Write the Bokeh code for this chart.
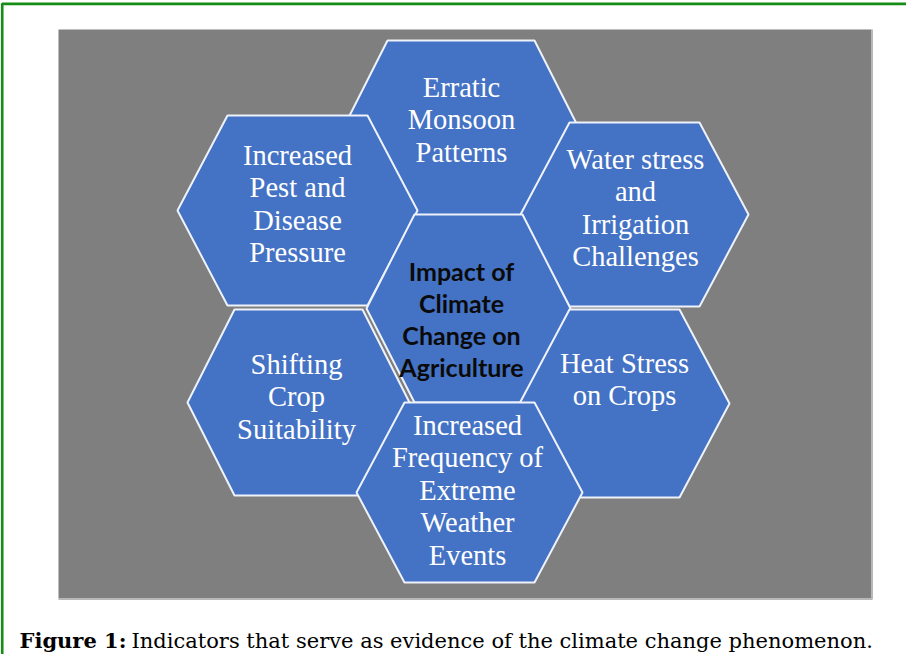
from bokeh.plotting import figure
from bokeh.models import Range1d
from bokeh.core.properties import value
from bokeh.embed import file_html
from bokeh.resources import INLINE

# ---- data ----
labels = [
    "Erratic\nMonsoon\nPatterns",
    "Increased\nPest and\nDisease\nPressure",
    "Water stress\nand\nIrrigation\nChallenges",
    "Impact of\nClimate\nChange on\nAgriculture",
    "Shifting\nCrop\nSuitability",
    "Heat Stress\non Crops",
    "Increased\nFrequency of\nExtreme\nWeather\nEvents",
]
is_core = [False, False, False, True, False, False, False]
hex_cx = [468.5, 305, 642, 476, 306, 632, 477]
hex_cy = [140, 218, 222, 316, 410, 411, 500]
hex_w = [120, 120, 114, 102, 111, 105, 113]
hex_e = [73.5, 70, 65, 54, 64, 55, 65]
hex_h = [92, 95, 92, 94, 93, 94, 90]
text_x = [469, 305, 643, 469, 304, 632, 475]
text_first_baseline = [95, 163, 167, 278, 372, 371, 433]
caption_bold = "Figure 1:"
caption_rest = "Indicators that serve as evidence of the climate change phenomenon."

W, H = 906, 654
p = figure(width=W, height=H, output_backend="svg", toolbar_location=None,
           x_range=Range1d(8, 8 + W), y_range=Range1d(8 + H, 8),
           min_border=0)
p.axis.visible = False
p.grid.visible = False
p.outline_line_color = None
p.background_fill_color = "white"
p.border_fill_color = "white"

# green frame
p.quad(left=[9.7], right=[1200], top=[11.3], bottom=[1200],
       fill_color=None, line_color="#178C17", line_width=2.7)

# gray panel
p.quad(left=[66], right=[879], top=[37], bottom=[606],
       fill_color="#7f7f7f", line_color=None)
p.line(x=[879.5, 879.5, 66], y=[37, 606.5, 606.5], line_color="#b8b8b8", line_width=2)

# hexagons
xs, ys = [], []
for cx, cy, w, e, h in zip(hex_cx, hex_cy, hex_w, hex_e, hex_h):
    xs.append([cx - e, cx + e, cx + w, cx + e, cx - e, cx - w])
    ys.append([cy - h, cy - h, cy, cy + h, cy + h, cy])
p.patches(xs=xs, ys=ys, fill_color="#4472C4", line_color="#eef2fa", line_width=2)

# hexagon texts
for lab, core, tx, tb in zip(labels, is_core, text_x, text_first_baseline):
    lines = lab.split("\n")
    step = 32.0 if core else 32.4
    lx = [tx] * len(lines)
    ly = [tb + i * step for i in range(len(lines))]
    if core:
        p.text(x=lx, y=ly, text=lines, text_font=value("Lato"), text_font_style="bold",
               text_font_size="25px", text_color="#0a0a0a",
               text_align="center", text_baseline="alphabetic")
    else:
        p.text(x=lx, y=ly, text=lines, text_font=value("Liberation Serif"),
               text_font_size="28.5px", text_color="white",
               text_align="center", text_baseline="alphabetic")

# caption
p.text(x=[27], y=[648], text=[caption_bold], text_font=value("DejaVu Serif"),
       text_font_style="bold", text_font_size="21px", text_color="black",
       text_align="left", text_baseline="alphabetic")
p.text(x=[139], y=[648], text=[caption_rest], text_font=value("DejaVu Serif"),
       text_font_size="21px", text_color="black",
       text_align="left", text_baseline="alphabetic")

open("out.html", "w").write(file_html(p, INLINE))
